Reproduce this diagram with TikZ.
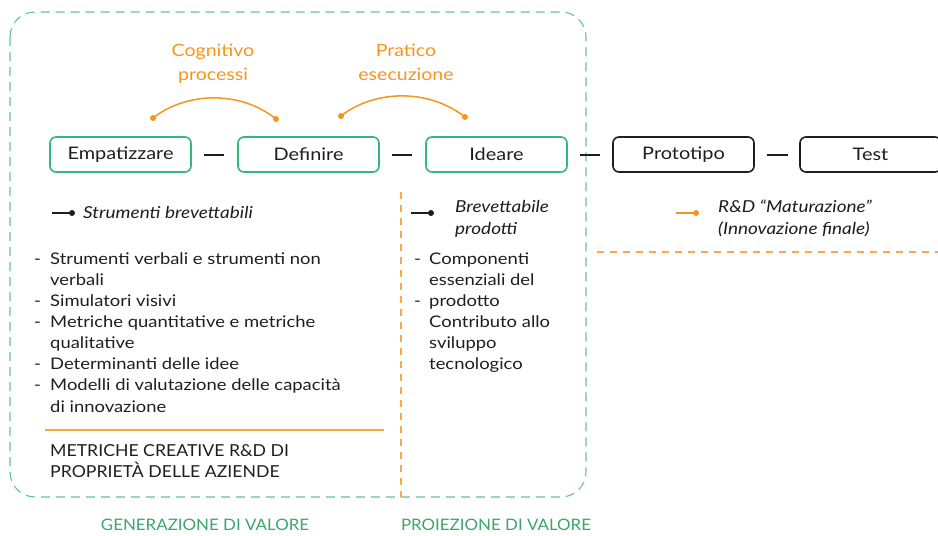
\documentclass[tikz,border=0pt]{standalone}
\usepackage{fontspec}
\setmainfont{Lato}[FakeStretch=1.15]
\newfontfamily\capsf{Lato}[FakeStretch=1.07]
\definecolor{grn}{HTML}{34B878}
\definecolor{org}{HTML}{F7941D}
\definecolor{lbl}{HTML}{3AA66E}
\definecolor{ink}{HTML}{1E1E1E}
\begin{document}
\begin{tikzpicture}[x=1pt,y=-1pt,
  stage/.style={draw=grn, line width=1.6pt, rounded corners=6pt, minimum width=141pt, minimum height=35pt, inner sep=0pt, text=ink, font=\fontsize{17.3}{20}\selectfont},
  stageblk/.style={stage, draw=ink},
  txt/.style={anchor=mid west, inner sep=0pt, yshift=-3pt, text=ink, font=\fontsize{16}{21}\selectfont},
  itxt/.style={txt, font=\fontsize{16.5}{21}\selectfont\itshape},
  ctxt/.style={txt, font=\capsf\fontsize{16.5}{21}\selectfont},
  lab/.style={anchor=mid, inner sep=0pt, yshift=-3pt, text=org, font=\fontsize{17}{21}\selectfont},
  glab/.style={anchor=mid, inner sep=0pt, yshift=-3pt, text=lbl, font=\capsf\fontsize{15.8}{18}\selectfont},
  link/.style={draw=ink, line width=1.2pt},
  arcline/.style={draw=org, line width=1.5pt},
  dot/.style={circle, fill=#1, inner sep=0pt, minimum size=6pt},
  gdash/.style={draw=grn!80, line width=1.1pt, dash pattern=on 9pt off 6pt},
  odash/.style={draw=org!80, line width=1.1pt, dash pattern=on 7pt off 6pt}
]
\useasboundingbox (0,0) rectangle (938,536);
% frame
\draw[gdash, rounded corners=25pt] (10,12) rectangle (586,497);
% stage boxes
\node[stage] (emp) at (120.5,154.5) {Empatizzare};
\node[stage] (def) at (308.5,154.5) {Definire};
\node[stage] (ide) at (496.5,154.5) {Ideare};
\node[stageblk] (pro) at (683.5,154.5) {Prototipo};
\node[stageblk] (tes) at (870.5,154.5) {Test};
% short links
\coordinate (l1a) at (204,155); \coordinate (l1b) at (224,155);
\coordinate (l2a) at (392,155); \coordinate (l2b) at (412,155);
\coordinate (l3a) at (580,155); \coordinate (l3b) at (600,155);
\coordinate (l4a) at (767,155); \coordinate (l4b) at (788,155);
\draw[link] (l1a) -- (l1b);
\draw[link] (l2a) -- (l2b);
\draw[link] (l3a) -- (l3b);
\draw[link] (l4a) -- (l4b);
% arcs
\node[dot=org] (a1s) at (153,118) {};
\node[dot=org] (a1e) at (276,119) {};
\node[dot=org] (a2s) at (341,116) {};
\node[dot=org] (a2e) at (465,117) {};
\draw[arcline] (a1s.center) .. controls (186,92) and (240,90) .. (a1e.center);
\draw[arcline] (a2s.center) .. controls (374,90) and (428,88) .. (a2e.center);
\node[lab] (cog) at (213,51) {Cognitivo};
\node[lab] (cogp) at (213,75) {processi};
\node[lab] (pra) at (406,51) {Pratico};
\node[lab] (prae) at (406,75) {esecuzione};
% markers
\coordinate (m1a) at (52,213); \node[dot=ink] (m1d) at (72,213) {};
\draw[link] (m1a) -- (m1d.center);
\node[itxt] (sb) at (83,213) {Strumenti brevettabili};
\coordinate (m2a) at (411,213); \node[dot=ink] (m2d) at (431,213) {};
\draw[link] (m2a) -- (m2d.center);
\node[itxt] (bp1) at (455,207) {Brevettabile};
\node[itxt] (bp2) at (455,229) {prodotti};
\coordinate (m3a) at (676,213); \node[dot=org] (m3d) at (696,213) {};
\draw[arcline, line width=1.2pt] (m3a) -- (m3d.center);
\node[itxt] (rd1) at (718,207) {R\&D “Maturazione”};
\node[itxt] (rd2) at (718,229) {(Innovazione finale)};
% left list
\foreach \y in {259,301,322,364,385} {\node[txt] at (34,\y) {-};}
\node[txt] (t1) at (50,259) {Strumenti verbali e strumenti non};
\node[txt] (t2) at (50,280) {verbali};
\node[txt] (t3) at (50,301) {Simulatori visivi};
\node[txt] (t4) at (50,322) {Metriche quantitative e metriche};
\node[txt] (t5) at (50,343) {qualitative};
\node[txt] (t6) at (50,364) {Determinanti delle idee};
\node[txt] (t7) at (50,385) {Modelli di valutazione delle capacità};
\node[txt] (t8) at (50,407) {di innovazione};
\coordinate (ol1) at (45,430); \coordinate (ol2) at (384,430);
\draw[draw=org!85, line width=1.6pt] (ol1) -- (ol2);
\node[ctxt] (mc1) at (50,451) {METRICHE CREATIVE R\&D DI};
\node[ctxt] (mc2) at (50,472) {PROPRIETÀ DELLE AZIENDE};
% right list
\foreach \y in {259,301} {\node[txt] at (414,\y) {-};}
\node[txt] (r1) at (429,259) {Componenti};
\node[txt] (r2) at (429,280) {essenziali del};
\node[txt] (r3) at (429,301) {prodotto};
\node[txt] (r4) at (429,322) {Contributo allo};
\node[txt] (r5) at (429,343) {sviluppo};
\node[txt] (r6) at (429,364) {tecnologico};
% orange dashed separators
\coordinate (v1) at (401,192); \coordinate (v2) at (401,497);
\draw[odash] (v1) -- (v2);
\coordinate (h1) at (597,252); \coordinate (h2) at (938,252);
\draw[odash] (h1) -- (h2);
% bottom labels
\node[glab] (gen) at (205,525) {GENERAZIONE DI VALORE};
\node[glab] (pro2) at (496,525) {PROIEZIONE DI VALORE};
\end{tikzpicture}
\end{document}
